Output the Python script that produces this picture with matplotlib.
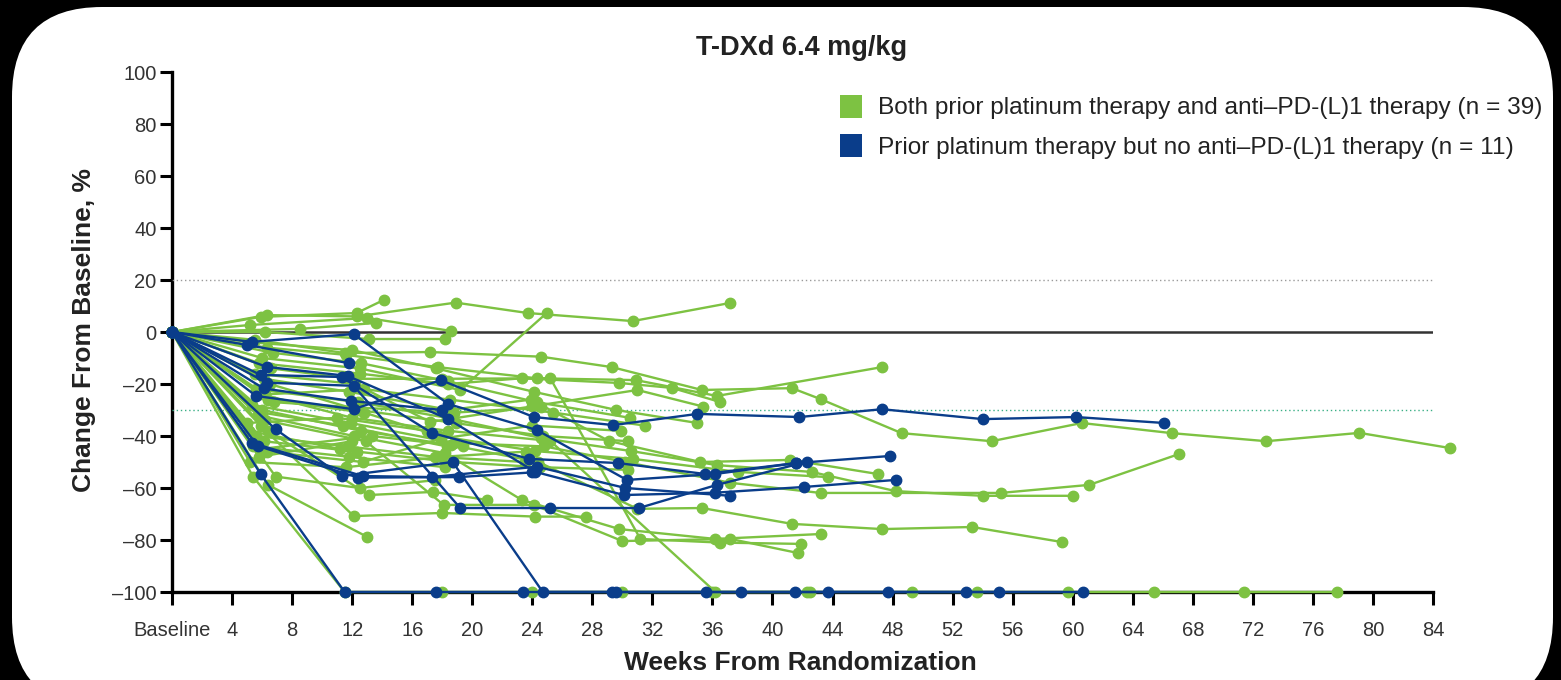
import matplotlib
matplotlib.use('Agg')
import matplotlib.pyplot as plt
from matplotlib.patches import FancyBboxPatch, Rectangle

plt.rcParams['font.family'] = ['Liberation Sans', 'DejaVu Sans']

title = "T-DXd 6.4 mg/kg"
x_label = "Weeks From Randomization"
y_label = "Change From Baseline, %"
legend_labels = ["Both prior platinum therapy and anti\u2013PD-(L)1 therapy (n = 39)",
                 "Prior platinum therapy but no anti\u2013PD-(L)1 therapy (n = 11)"]
x_ticks = list(range(0, 85, 4))
x_tick_labels = ["Baseline"] + [str(t) for t in x_ticks[1:]]
y_ticks = list(range(-100, 101, 20))
y_tick_labels = [("\u2013" + str(-t)) if t < 0 else str(t) for t in y_ticks]

# Green: both prior platinum and anti-PD-(L)1 therapy (n = 39)
green_weeks = [
    [0, 5.5, 11.5, 17.2, 24.6, 29.3, 35.3, 41.3, 43.2, 48.6, 54.6, 60.6, 66.6, 72.9, 79.1, 85.1],
    [0, 5.4, 11.5, 18.0, 24.0, 30.0, 36.0, 42.3, 49.3, 53.6, 59.7, 65.4, 71.4, 77.6],
    [0, 6.0, 12.0, 18.4, 25.2, 36.2, 42.5],
    [0, 6.3, 12.3, 18.9, 23.7, 30.7, 37.2],
    [0, 5.9, 12.3, 14.1],
    [0, 5.2, 13.0, 18.6],
    [0, 8.5, 13.6],
    [0, 6.2, 13.1, 18.2],
    [0, 6.0, 12.5, 19.2, 25.0],
    [0, 6.3, 11.6, 17.7, 24.3, 30.9, 36.3, 47.3],
    [0, 5.8, 12.5, 18.4, 23.3, 29.8, 33.3, 36.5],
    [0, 6.6, 12.0, 18.0, 25.2, 31.2, 36.5, 41.9],
    [0, 5.5, 12.2, 17.2, 24.0, 31.0, 35.4],
    [0, 6.1, 11.8, 18.5, 23.9, 29.1, 35.2, 41.2, 47.0],
    [0, 5.6, 12.4, 18.3, 24.6, 30.6, 36.3, 42.6, 48.2, 54.0, 60.0],
    [0, 6.4, 12.8, 17.8, 24.2, 30.7, 37.7, 43.7],
    [0, 5.3, 11.9, 18.8, 24.8, 30.2, 37.2, 43.2, 55.2, 61.1, 67.1],
    [0, 6.0, 12.6, 18.6, 24.4, 31.0, 35.3, 41.3, 47.3, 53.3, 59.3],
    [0, 5.7, 12.1, 18.2, 23.3, 29.8, 36.2, 43.2],
    [0, 6.2, 12.9, 18.1, 24.1, 30.0, 37.2, 41.7],
    [0, 5.9, 12.1, 18.0, 24.2, 27.6],
    [0, 6.4, 13.1, 17.4, 21.0],
    [0, 6.4, 13.0],
    [0, 6.9, 12.5, 17.5],
    [0, 5.6, 11.7, 17.5, 23.5],
    [0, 6.1, 12.3, 18.7, 24.5, 30.4],
    [0, 5.4, 11.8, 18.2],
    [0, 6.3, 12.7, 17.9, 24.0, 29.9],
    [0, 5.8, 12.0],
    [0, 6.5, 12.4, 18.9, 24.7, 30.4],
    [0, 5.2, 11.6, 18.0, 23.6],
    [0, 6.7, 12.6, 18.4, 24.3, 30.5],
    [0, 5.4, 12.0, 17.6, 24.1, 29.6, 35.0],
    [0, 6.0, 11.4, 18.3],
    [0, 5.1, 11.2],
    [0, 6.8, 12.2, 18.8, 24.6],
    [0, 5.9, 13.3, 19.4],
    [0, 6.2, 12.8, 18.5, 25.4, 31.5],
    [0, 5.0, 11.0, 17.0],
]
green_values = [
    [0, -3, -8.1, -7.7, -9.5, -13.5, -22.3, -21.6, -25.8, -38.9, -42, -35, -38.9, -42, -38.8, -44.6],
    [0, -55.6, -100, -100, -100, -100, -100, -100, -100, -100, -100, -100, -100, -100],
    [0, -24, -33, -38, -41.9, -100, -100],
    [0, 6.5, 6, 11.3, 7.3, 4.2, 11.2],
    [0, 5.8, 7.3, 12.3],
    [0, 2.7, 5.4, 0.4],
    [0, 1.2, 3.5],
    [0, 0, -2.7, -2.7],
    [0, -10, -14, -22.3, 7.5],
    [0, -6, -8.8, -13.5, -17.8, -18.5, -24.6, -13.5],
    [0, -12, -16, -20, -17.8, -19.6, -21.5, -26.9],
    [0, -14, -18, -18, -17.8, -79.6, -81, -81.5],
    [0, -16, -20, -34.6, -28.6, -22.3, -28.7],
    [0, -18, -23, -30, -26, -41.9, -50, -49.2, -54.6],
    [0, -22, -27, -33, -40.8, -45.8, -51.2, -53.8, -61.2, -63, -63],
    [0, -26, -31, -40, -45.8, -48.8, -53.8, -55.8],
    [0, -28, -35, -42.7, -44, -50, -58, -61.9, -61.9, -58.8, -46.9],
    [0, -30, -38, -43.5, -50, -68, -67.7, -73.8, -75.8, -75, -80.8],
    [0, -32, -40, -46.6, -64.6, -75.8, -79.6, -77.7],
    [0, -34, -42, -66.5, -66.5, -80.4, -79.6, -85],
    [0, -36, -70.8, -69.6, -71, -71],
    [0, -38, -62.7, -61.5, -64.6],
    [0, -58.8, -78.8],
    [0, -55.6, -60, -57],
    [0, -40, -44, -48, -50],
    [0, -42, -46, -50, -52, -53],
    [0, -44, -48, -52],
    [0, -46, -50, -41, -36, -38],
    [0, -48, -42],
    [0, -20, -30, -35, -40, -42],
    [0, -50, -52, -48, -46],
    [0, -8, -12, -19, -27, -33],
    [0, -4, -7, -14, -23, -30, -35],
    [0, -31, -36, -44],
    [0, -38, -45],
    [0, -27, -29, -31, -29],
    [0, -45, -40, -44],
    [0, -24, -22, -26, -31, -36],
    [0, -35, -33, -38],
]

# Blue: prior platinum but no anti-PD-(L)1 therapy (n = 11)
blue_weeks = [
    [0, 5.6, 12.1, 17.9, 24.1, 29.4, 35.0, 41.8, 47.3, 54.0, 60.2, 66.1],
    [0, 5.9, 11.5, 17.6, 23.4, 29.3, 35.6, 41.5, 47.7, 52.9, 60.7],
    [0, 6.9, 11.3, 18.7, 24.7, 29.6, 37.9, 43.7, 55.1],
    [0, 6.3, 12.1, 19.2, 25.2, 31.1, 36.3, 42.3],
    [0, 5.3, 12.1, 18.4, 24.3, 30.3, 36.2, 41.6],
    [0, 6.3, 11.7, 18.4, 24.2, 30.1, 36.2, 42.1, 48.2],
    [0, 5.9, 11.3, 17.3, 23.8, 29.7, 35.5, 41.6, 47.8],
    [0, 5.3, 12.7, 17.3, 24.3, 30.2, 37.2],
    [0, 5.7, 12.4, 19.1, 24.0],
    [0, 5.0, 11.8],
    [0, 6.1, 11.9, 18.0],
]
blue_values = [
    [0, -24.6, -29.7, -18.5, -32.7, -35.8, -31.5, -32.7, -29.7, -33.5, -32.7, -35],
    [0, -54.6, -100, -100, -100, -100, -100, -100, -100, -100, -100],
    [0, -37.4, -55.4, -50, -100, -100, -100, -100, -100],
    [0, -19.5, -20.7, -67.7, -67.7, -67.7, -58.8, -49.9],
    [0, -3.8, -0.8, -27.7, -37.7, -56.9, -54.6, -50.4],
    [0, -13.4, -16.9, -33.5, -53.8, -62.7, -61.8, -59.6, -56.9],
    [0, -16.5, -17.3, -38.8, -48.8, -50.4, -54.6, -50.4, -47.7],
    [0, -42.6, -55.4, -55.8, -51.8, -60, -63],
    [0, -43.8, -56, -55.8, -54],
    [0, -5, -12],
    [0, -21.7, -26.5, -30],
]

GREEN = '#7DC242'
BLUE = '#0A3D8A'

W, H = 1561, 680
fig = plt.figure(figsize=(W / 100, H / 100), dpi=100)
fig.patch.set_facecolor('black')

bg = fig.add_axes([0, 0, 1, 1])
bg.set_xlim(0, W)
bg.set_ylim(H, 0)
bg.axis('off')
card = FancyBboxPatch((12, 7), 1541, 700, boxstyle="round,pad=0,rounding_size=90",
                      fc='white', ec='none')
bg.add_patch(card)

# legend (manual)
bg.add_patch(Rectangle((840, 95), 22, 23, fc=GREEN, ec='none'))
bg.add_patch(Rectangle((840, 134), 22, 23, fc=BLUE, ec='none'))
bg.text(878, 108, legend_labels[0], fontsize=17.6, va='center', ha='left', color='#222222')
bg.text(878, 148, legend_labels[1], fontsize=17.6, va='center', ha='left', color='#222222')

# titles
bg.text(802, 48, title, fontsize=19.5, fontweight='bold', ha='center', va='center', color='#222222')
bg.text(800, 663, x_label, fontsize=19, fontweight='bold', ha='center', va='center', color='#222222')
bg.text(84, 330, y_label, fontsize=19, fontweight='bold', ha='center', va='center',
        rotation=90, color='#222222')

ax = fig.add_axes([172 / W, 1 - 592 / H, (1433 - 172) / W, (592 - 72) / H])
ax.patch.set_alpha(0)
ax.set_xlim(0, 84)
ax.set_ylim(-100, 100)
for s in ['top', 'right']:
    ax.spines[s].set_visible(False)
for s in ['left', 'bottom']:
    ax.spines[s].set_linewidth(2.4)
    ax.spines[s].set_color('black')
    ax.spines[s].set_zorder(0.5)

ax.set_xticks(x_ticks)
ax.set_xticklabels(x_tick_labels)
ax.set_yticks(y_ticks)
ax.set_yticklabels(y_tick_labels)
ax.tick_params(axis='both', direction='out', length=9, width=2.2, labelsize=14.5,
               colors='black', labelcolor='#333333')
ax.tick_params(axis='x', pad=12)
ax.tick_params(axis='y', pad=2)

ax.axhline(0, color='#333333', lw=1.8, zorder=1)
ax.axhline(20, color='#9a9a9a', lw=1.0, ls=(0, (1, 2)), zorder=1)
ax.axhline(-30, color='#3BAF86', lw=1.0, ls=(0, (1, 2)), zorder=1)

for w, v in zip(green_weeks, green_values):
    ax.plot(w, v, '-o', color=GREEN, lw=1.7, ms=7.5, mec=GREEN, clip_on=False, zorder=2)
for w, v in zip(blue_weeks, blue_values):
    ax.plot(w, v, '-o', color=BLUE, lw=1.7, ms=7.5, mec=BLUE, clip_on=False, zorder=3)

fig.savefig('out.png', dpi=100, facecolor=fig.get_facecolor())
